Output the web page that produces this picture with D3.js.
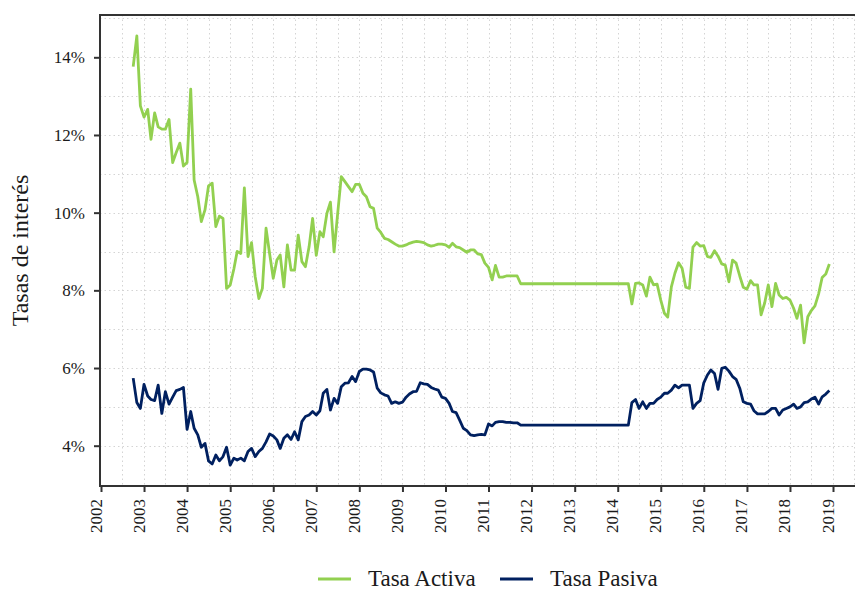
<!DOCTYPE html>
<html><head><meta charset="utf-8">
<script src="https://cdn.jsdelivr.net/npm/d3@7"></script>
<style>body{margin:0;background:#fff} svg{display:block}</style>
</head><body><svg id="c" width="855" height="591"></svg>
<script>
// Monthly series, starting October 2002, ending December 2018
const firstYear = 2002, firstMonth = 9; // 0-based month (October)
const tasaActiva = [
  13.76,14.55,12.75,
  12.46,12.66,11.89,12.57,12.21,12.15,12.15,12.40,11.29,11.55,11.79,11.20,
  11.29,13.18,10.84,10.41,9.77,10.07,10.69,10.76,9.64,9.91,9.85,8.05,
  8.14,8.55,9.00,8.95,10.64,8.87,9.23,8.35,7.79,8.05,9.60,8.95,
  8.31,8.78,8.91,8.09,9.17,8.52,8.52,9.42,8.74,8.61,9.12,9.85,
  8.90,9.51,9.38,9.98,10.27,8.99,9.96,10.93,10.80,10.67,10.54,10.73,
  10.73,10.50,10.41,10.15,10.11,9.60,9.49,9.34,9.31,9.25,9.19,9.14,
  9.14,9.17,9.21,9.24,9.26,9.25,9.23,9.17,9.14,9.16,9.19,9.19,
  9.17,9.11,9.21,9.12,9.10,9.04,8.98,9.04,9.04,8.94,8.92,8.70,
  8.59,8.27,8.64,8.34,8.34,8.37,8.37,8.37,8.37,8.17,8.17,8.17,
  8.17,8.17,8.17,8.17,8.17,8.17,8.17,8.17,8.17,8.17,8.17,8.17,
  8.17,8.17,8.17,8.17,8.17,8.17,8.17,8.17,8.17,8.17,8.17,8.17,
  8.17,8.17,8.17,8.17,7.65,8.18,8.19,8.14,7.85,8.34,8.14,8.16,
  7.75,7.41,7.31,8.09,8.44,8.71,8.57,8.08,8.05,9.11,9.23,9.14,
  9.15,8.87,8.85,9.02,8.88,8.68,8.65,8.22,8.78,8.70,8.37,8.08,
  8.03,8.25,8.14,8.14,7.37,7.68,8.14,7.58,8.18,7.88,7.79,7.82,
  7.75,7.54,7.28,7.62,6.65,7.32,7.48,7.60,7.91,8.33,8.42,8.68
];
const tasaPasiva = [
  5.74,5.11,4.96,
  5.58,5.28,5.19,5.16,5.56,4.83,5.39,5.07,5.25,5.42,5.45,5.50,
  4.42,4.88,4.45,4.28,3.96,4.06,3.61,3.53,3.76,3.61,3.72,3.96,
  3.50,3.68,3.63,3.68,3.61,3.85,3.93,3.72,3.85,3.93,4.10,4.30,
  4.25,4.15,3.93,4.19,4.28,4.16,4.36,4.15,4.62,4.75,4.79,4.88,
  4.79,4.90,5.35,5.45,4.92,5.22,5.09,5.52,5.61,5.62,5.78,5.65,
  5.91,5.97,5.97,5.95,5.90,5.48,5.36,5.31,5.28,5.09,5.13,5.09,
  5.12,5.25,5.33,5.39,5.40,5.62,5.59,5.58,5.50,5.46,5.43,5.25,
  5.22,5.09,4.88,4.85,4.66,4.45,4.39,4.28,4.26,4.28,4.29,4.28,
  4.56,4.51,4.60,4.62,4.62,4.60,4.60,4.59,4.59,4.53,4.53,4.53,
  4.53,4.53,4.53,4.53,4.53,4.53,4.53,4.53,4.53,4.53,4.53,4.53,
  4.53,4.53,4.53,4.53,4.53,4.53,4.53,4.53,4.53,4.53,4.53,4.53,
  4.53,4.53,4.53,4.53,5.11,5.19,4.96,5.13,4.96,5.09,5.09,5.19,
  5.25,5.35,5.35,5.43,5.56,5.49,5.56,5.56,5.56,4.96,5.09,5.16,
  5.62,5.82,5.95,5.86,5.45,5.99,6.02,5.92,5.78,5.71,5.48,5.13,
  5.09,5.07,4.90,4.82,4.82,4.82,4.88,4.96,4.96,4.79,4.92,4.96,
  5.00,5.07,4.96,5.00,5.11,5.13,5.20,5.25,5.07,5.26,5.33,5.42
];
const seriesNames = ["Tasa Activa", "Tasa Pasiva"];
const seriesColors = ["#92d050", "#002060"];
const yTickValues = [4, 6, 8, 10, 12, 14];
const yGridValues = [3,4,5,6,7,8,9,10,11,12,13,14,15];
const xTickYears = [2002,2003,2004,2005,2006,2007,2008,2009,2010,2011,2012,2013,2014,2015,2016,2017,2018,2019];
const yTitle = "Tasas de interés";

const svg = d3.select("#c");
const plot = {left: 100, right: 857, top: 15, bottom: 486};

const dates = tasaActiva.map((_, i) => new Date(firstYear, firstMonth + i, 1));

const x = d3.scaleTime()
  .domain([new Date(2002, 0, 1), new Date(2019, 0, 1)])
  .range([101, 833]);
const y = d3.scaleLinear().domain([4, 14]).range([445.7, 57.3]);

// grid
const grid = svg.append("g").attr("stroke", "#d4d4d4").attr("stroke-width", 1)
  .attr("stroke-dasharray", "1.5,3");
grid.selectAll("line.h").data(yGridValues).join("line")
  .attr("x1", plot.left).attr("x2", plot.right)
  .attr("y1", d => Math.round(y(d)) + 0.5).attr("y2", d => Math.round(y(d)) + 0.5);
const halfYears = d3.timeMonth.every(6).range(new Date(2002, 6, 1), new Date(2020, 1, 1));
grid.selectAll("line.v").data(halfYears).join("line")
  .attr("y1", plot.top).attr("y2", plot.bottom)
  .attr("x1", d => Math.round(x(d)) + 0.5).attr("x2", d => Math.round(x(d)) + 0.5);

// lines
const line = d3.line().x((d, i) => x(dates[i])).y(d => y(d)).curve(d3.curveLinear);
[tasaActiva, tasaPasiva].forEach((s, k) => {
  svg.append("path").datum(s).attr("d", line)
    .attr("fill", "none").attr("stroke", seriesColors[k])
    .attr("stroke-width", 2.8).attr("stroke-linejoin", "round").attr("stroke-linecap", "butt");
});

// frame
const axisColor = "#333";
svg.append("line").attr("x1", plot.left - 1).attr("x2", plot.right).attr("y1", plot.top).attr("y2", plot.top)
  .attr("stroke", axisColor).attr("stroke-width", 2);
svg.append("line").attr("x1", plot.left).attr("x2", plot.left).attr("y1", plot.top).attr("y2", plot.bottom + 1)
  .attr("stroke", axisColor).attr("stroke-width", 2);
svg.append("line").attr("x1", plot.left - 1).attr("x2", plot.right).attr("y1", plot.bottom).attr("y2", plot.bottom)
  .attr("stroke", axisColor).attr("stroke-width", 2);

const font = "'Liberation Serif', 'Times New Roman', serif";

// y axis
const yAxis = svg.append("g").attr("transform", `translate(${plot.left},0)`)
  .call(d3.axisLeft(y).tickValues(yTickValues).tickFormat(d => d + "%").tickSize(6).tickPadding(9));
yAxis.select(".domain").remove();
yAxis.selectAll(".tick line").attr("stroke", axisColor).attr("stroke-width", 2);
yAxis.selectAll(".tick text").attr("font-family", font).attr("font-size", 17).attr("fill", "#1a1a1a");

// x axis
const xAxis = svg.append("g").attr("transform", `translate(0,${plot.bottom})`)
  .call(d3.axisBottom(x).tickValues(xTickYears.map(yr => new Date(yr, 0, 1)))
    .tickFormat(d3.timeFormat("%Y")).tickSize(6));
xAxis.select(".domain").remove();
xAxis.selectAll(".tick line").attr("stroke", axisColor).attr("stroke-width", 2);
xAxis.selectAll(".tick text")
  .attr("font-family", font).attr("font-size", 17).attr("fill", "#1a1a1a")
  .attr("transform", "rotate(-90)")
  .attr("text-anchor", "end")
  .attr("x", -13).attr("y", 0).attr("dy", "0em");

// y title
svg.append("text").attr("transform", `translate(28,${(plot.top + plot.bottom) / 2}) rotate(-90)`)
  .attr("text-anchor", "middle").attr("font-family", font).attr("font-size", 24).attr("fill", "#1a1a1a")
  .text(yTitle);

// legend
const legendItems = [{lx: 318, tx: 368}, {lx: 500, tx: 550}];
const lg = svg.append("g");
seriesNames.forEach((name, k) => {
  lg.append("line").attr("x1", legendItems[k].lx).attr("x2", legendItems[k].lx + 33)
    .attr("y1", 579).attr("y2", 579).attr("stroke", seriesColors[k]).attr("stroke-width", 3);
  lg.append("text").attr("x", legendItems[k].tx).attr("y", 585.5)
    .attr("font-family", font).attr("font-size", 23).attr("fill", "#1a1a1a").text(name);
});
</script>
</body></html>
